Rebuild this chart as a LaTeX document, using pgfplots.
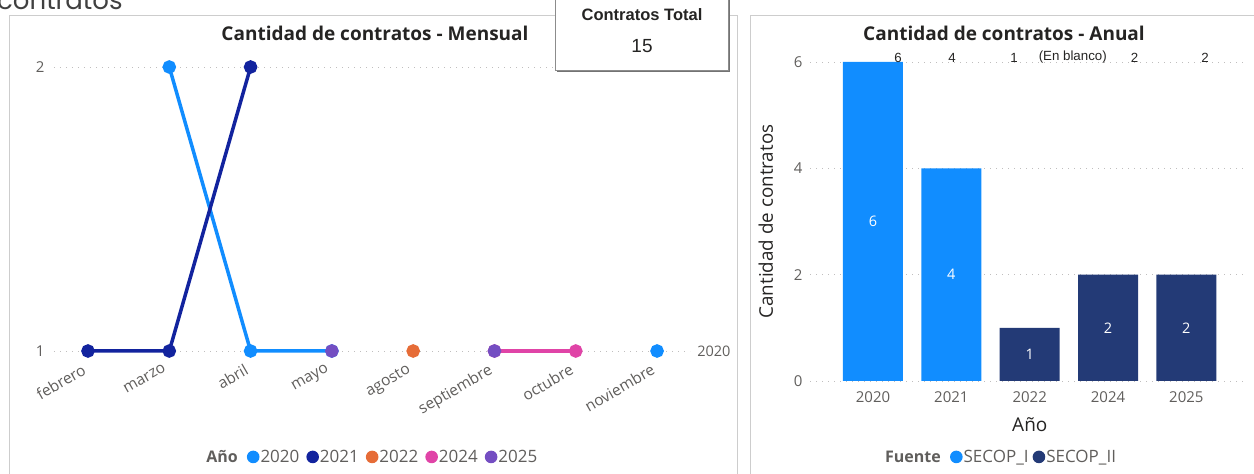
\documentclass[border=0pt]{standalone}
\usepackage{fontspec}
\setmainfont{Open Sans}
\newfontfamily\arialf{Liberation Sans}
\newfontfamily\popf{Poppins}
\usepackage{pgfplots}
\pgfplotsset{compat=1.18}
\definecolor{cA}{HTML}{118DFF}
\definecolor{cB}{HTML}{12239E}
\definecolor{cC}{HTML}{E66C37}
\definecolor{cD}{HTML}{E044A7}
\definecolor{cE}{HTML}{744EC2}
\definecolor{cSII}{RGB}{35,58,118}
\definecolor{tickc}{HTML}{605E5C}
\definecolor{titlec}{HTML}{252423}
\definecolor{panelc}{RGB}{205,205,205}
\newcommand{\fs}[1]{\fontsize{#1}{#1}\selectfont}
\pgfplotsset{
  dotlegend/.style={legend image code/.code={\fill[#1, draw=none] (6.3pt,0pt) circle (6.3pt);}},
}

\begin{document}
\begin{tikzpicture}
\path[use as bounding box] (0pt,0pt) rectangle (1254pt,474pt);
\begin{scope}
\clip (0pt,0pt) rectangle (1254pt,474pt);
\node[anchor=base west, inner sep=0pt, text=black!75] at (-3pt,464pt) {\popf\fs{26}contratos};
\draw[panelc, line width=1pt] (9pt,-10pt) rectangle (737pt,458pt);
\draw[panelc, line width=1pt] (750pt,-10pt) rectangle (1264pt,458pt);
\end{scope}

\node[text=titlec, font=\bfseries\fs{19}] at (375pt,441pt) {Cantidad de contratos - Mensual};
\node[text=titlec, font=\bfseries\fs{19}] at (1004pt,441pt) {Cantidad de contratos - Anual};

% monthly line chart
\begin{axis}[
  at={(54pt,123pt)}, anchor=south west,
  scale only axis, width=636pt, height=284pt,
  xmin=-0.418, xmax=7.405, ymin=1, ymax=2,
  clip=false,
  unbounded coords=jump,
  axis line style={draw=none},
  major tick length=0pt,
  ymajorgrids,
  grid style={tickc!40, line width=0.8pt, dash pattern=on 1pt off 5pt},
  ytick={1,2},
  yticklabel style={font=\fs{15}, text=tickc, xshift=-6pt},
  /pgf/number format/assume math mode=true,
  xtick={0,...,7},
  xticklabels={febrero,marzo,abril,mayo,agosto,septiembre,octubre,noviembre},
  xticklabel style={font=\fs{15.5}, text=tickc, rotate=30, anchor=north east, inner sep=1pt, xshift=-11pt, yshift=-6pt},
  legend columns=-1,
  legend style={at={(0.303,-0.373)}, anchor=west, draw=none, fill=none,
    font=\fs{17}, text=tickc, inner sep=0pt,
    nodes={inner sep=1pt},
    /tikz/every odd column/.append style={column sep=0pt},
    /tikz/every even column/.append style={column sep=6pt}},
]
\addplot[cA, line width=3.5pt, mark=*, mark size=5pt, mark options={solid}, dotlegend=cA]
  coordinates {(1,2) (2,1) (3,1) (4,nan) (7,1)};
\addlegendentry{2020}
\addplot[cB, line width=3.5pt, mark=*, mark size=5pt, mark options={solid}, dotlegend=cB]
  coordinates {(0,1) (1,1) (2,2)};
\addlegendentry{2021}
\addplot[cC, line width=3.5pt, mark=*, mark size=5pt, mark options={solid}, dotlegend=cC]
  coordinates {(4,1)};
\addlegendentry{2022}
\addplot[cD, line width=3.5pt, mark=*, mark size=5pt, mark options={solid}, dotlegend=cD]
  coordinates {(5,1) (6,1)};
\addlegendentry{2024}
\addplot[cE, line width=3.5pt, mark=*, mark size=5pt, mark options={solid}, dotlegend=cE]
  coordinates {(3,1) (4,nan) (5,1)};
\addlegendentry{2025}
\node[anchor=west, text=tickc, font=\fs{14.5}, inner sep=0pt] at (axis cs:7,1) [xshift=40pt] {2020};
\end{axis}
\node[text=tickc, font=\bfseries\fs{16}] at (222pt,17pt) {Año};

% yearly bar chart
\begin{axis}[
  at={(810pt,93pt)}, anchor=south west,
  scale only axis, width=437pt, height=319pt,
  xmin=-0.804, xmax=4.774, ymin=0, ymax=6,
  clip=false,
  axis line style={draw=none},
  major tick length=0pt,
  ymajorgrids,
  grid style={tickc!40, line width=0.8pt, dash pattern=on 1pt off 5pt},
  ytick={0,2,4,6},
  yticklabel style={font=\fs{15}, text=tickc, xshift=-4pt},
  /pgf/number format/assume math mode=true,
  xtick={0,...,4},
  xticklabels={2020,2021,2022,2024,2025},
  xticklabel style={font=\fs{15}, text=tickc, yshift=-7pt},
  xlabel={Año},
  xlabel style={at={(axis description cs:0.503,-0.138)}, anchor=center, font=\fs{19}, text=titlec},
  ylabel={Cantidad de contratos},
  ylabel style={at={(axis description cs:-0.101,0.5)}, anchor=center, rotate=0, font=\fs{18.8}, text=titlec},
  legend columns=-1,
  legend style={at={(0.32,-0.238)}, anchor=west, draw=none, fill=none,
    font=\fs{17}, text=tickc, inner sep=0pt,
    nodes={inner sep=1pt},
    /tikz/every odd column/.append style={column sep=0pt},
    /tikz/every even column/.append style={column sep=3pt}},
]
\addplot[ybar, bar width=60pt, bar shift=0pt, fill=cA, draw=none, color=cA, dotlegend=cA]
  coordinates {(0,6) (1,4)};
\addlegendentry{SECOP\_I}
\addplot[ybar, bar width=60pt, bar shift=0pt, fill=cSII, draw=none, color=cSII, dotlegend=cSII]
  coordinates {(2,1) (3,2) (4,2)};
\addlegendentry{SECOP\_II}
% labels inside the bars
\addplot[forget plot, draw=none, no marks, nodes near coords, point meta=explicit symbolic,
  nodes near coords style={anchor=center, text=white, font=\fs{14.5}}]
  coordinates {(0,3)[6] (1,2)[4] (2,0.5)[1] (3,1)[2] (4,1)[2]};
% labels above the plot area
\addplot[forget plot, draw=none, no marks, nodes near coords, point meta=explicit symbolic,
  nodes near coords style={anchor=south, inner sep=0pt, yshift=-1pt, text=titlec, font=\arialf\fs{13.3}}]
  coordinates {(0.32,6)[6] (1.01,6)[4] (1.80,6)[1] (2.55,6)[{(En blanco)}] (3.34,6)[2] (4.24,6)[2]};
\end{axis}
\node[text=tickc, font=\bfseries\fs{16}] at (913pt,17pt) {Fuente};

% card
\fill[black!55] (557pt,402pt) rectangle (730pt,480pt);
\filldraw[fill=white, draw=black!45, line width=0.8pt] (555pt,404pt) rectangle (728pt,482pt);
\node[text=titlec, font=\arialf\bfseries\fs{16.5}] at (642pt,459pt) {Contratos Total};
\node[text=titlec, font=\arialf\fs{19}] at (642pt,428pt) {15};
\end{tikzpicture}
\end{document}
